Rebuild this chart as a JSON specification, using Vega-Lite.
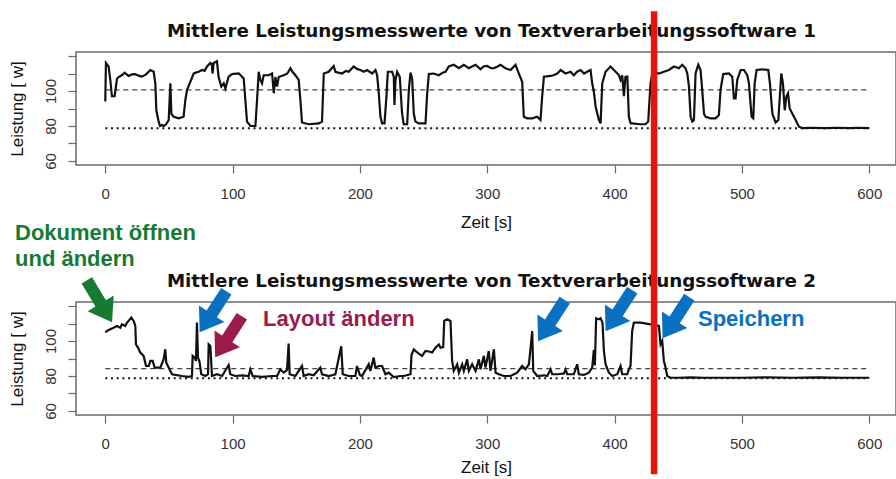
{
  "$schema": "https://vega.github.io/schema/vega-lite/v6.json",
  "background": "white",
  "padding": {"left": 7, "top": 7, "right": 0, "bottom": 0},
  "bounds": "flush",
  "spacing": 137,
  "config": {
    "view": {"stroke": "#6a6a6a", "strokeWidth": 1.5},
    "font": "Liberation Sans",
    "axis": {"grid": false, "domain": false, "tickColor": "#6a6a6a", "tickSize": 8, "tickWidth": 1.2,
      "labelFont": "Liberation Sans", "labelFontSize": 15, "labelColor": "#333",
      "titleFont": "Liberation Sans", "titleFontSize": 17, "titleFontWeight": "normal", "titleColor": "#111"}
  },
  "datasets": {
    "one": [{}],
    "title1": [{"t": 303.3, "w": 130.9, "label": "Mittlere Leistungsmesswerte von Textverarbeitungssoftware 1"}],
    "title2": [{"t": 303.3, "w": 130.9, "label": "Mittlere Leistungsmesswerte von Textverarbeitungssoftware 2"}],
    "sw1": [
      {"t":0,"w":94},{"t":0.5,"w":116},{"t":2.6,"w":114},{"t":4,"w":106},{"t":5.2,"w":97},{"t":7.3,"w":97},{"t":9.2,"w":107},{"t":10.5,"w":108},{"t":13,"w":109},{"t":15.2,"w":110.5},{"t":18.3,"w":108.6},{"t":21,"w":109.5},{"t":23.6,"w":109.7},{"t":26,"w":108.8},{"t":28.8,"w":108.2},{"t":32,"w":109.5},{"t":35.4,"w":112},{"t":38,"w":111},{"t":39.3,"w":104.4},{"t":40.1,"w":89},{"t":41.9,"w":82.5},{"t":43,"w":80},{"t":44.5,"w":80.6},{"t":46,"w":80},{"t":47.7,"w":81},{"t":49.8,"w":83.4},{"t":51.1,"w":104.4},{"t":51.9,"w":87},{"t":53.7,"w":85.3},{"t":57.6,"w":84.4},{"t":61.5,"w":85.3},{"t":62.9,"w":95},{"t":64.2,"w":100.6},{"t":66.8,"w":105.3},{"t":69.4,"w":110},{"t":71,"w":110.5},{"t":73.3,"w":111},{"t":76,"w":112},{"t":78,"w":111.5},{"t":79.9,"w":114},{"t":82.5,"w":116},{"t":83.5,"w":115.5},{"t":84.3,"w":110},{"t":85.1,"w":116},{"t":87.7,"w":117},{"t":89,"w":108},{"t":91.1,"w":102.5},{"t":93,"w":104.4},{"t":94.3,"w":101.5},{"t":96.9,"w":108.2},{"t":99.5,"w":109.7},{"t":104.8,"w":110.1},{"t":108.7,"w":107.2},{"t":110,"w":95},{"t":111.3,"w":82.5},{"t":114,"w":80},{"t":117.9,"w":80},{"t":119.2,"w":95},{"t":120.5,"w":111},{"t":121.8,"w":106.3},{"t":123.1,"w":104.4},{"t":124.4,"w":109},{"t":128.3,"w":109},{"t":131,"w":110},{"t":132.3,"w":98.7},{"t":133.6,"w":108},{"t":134.9,"w":102.5},{"t":136.2,"w":108},{"t":140.1,"w":109},{"t":143,"w":110},{"t":145.4,"w":113},{"t":147,"w":111},{"t":149.3,"w":109},{"t":151.9,"w":106.3},{"t":153.2,"w":95},{"t":154.5,"w":82},{"t":159.8,"w":81},{"t":167.6,"w":81.5},{"t":170.2,"w":82.5},{"t":171.6,"w":110},{"t":175.5,"w":111},{"t":179.4,"w":114.3},{"t":180.7,"w":111},{"t":183,"w":110.5},{"t":186,"w":110},{"t":189,"w":111.5},{"t":191.2,"w":111},{"t":195.1,"w":114},{"t":198,"w":112.5},{"t":200.4,"w":112},{"t":203,"w":111},{"t":205.6,"w":112},{"t":209.6,"w":110},{"t":212.2,"w":112},{"t":213.5,"w":109},{"t":214.8,"w":98.7},{"t":216.1,"w":85.3},{"t":217.4,"w":81.5},{"t":219.3,"w":81.5},{"t":220.8,"w":96.8},{"t":221.9,"w":111},{"t":225.3,"w":111},{"t":226.6,"w":108},{"t":227.1,"w":92},{"t":227.9,"w":106},{"t":229.2,"w":111},{"t":231.3,"w":108},{"t":233.1,"w":87},{"t":234.4,"w":81},{"t":237.1,"w":81},{"t":238.4,"w":100.6},{"t":239.7,"w":110.5},{"t":241,"w":107},{"t":242.3,"w":87},{"t":243.6,"w":82.5},{"t":246.2,"w":81.5},{"t":251.5,"w":81.5},{"t":252.8,"w":98.7},{"t":254.1,"w":109.7},{"t":258,"w":110},{"t":262,"w":109},{"t":265,"w":110.5},{"t":267.2,"w":111},{"t":269.8,"w":114},{"t":273.7,"w":115},{"t":277.7,"w":113},{"t":281.6,"w":115},{"t":285.5,"w":113},{"t":288,"w":114},{"t":290.8,"w":115},{"t":294.7,"w":112.4},{"t":297,"w":114},{"t":299.9,"w":114.3},{"t":303,"w":113},{"t":305.2,"w":113},{"t":308,"w":114},{"t":310.4,"w":115},{"t":314.3,"w":113},{"t":318.3,"w":112},{"t":322.2,"w":115},{"t":324.8,"w":110},{"t":327.4,"w":105.3},{"t":328.7,"w":85.3},{"t":331.3,"w":84.4},{"t":335.3,"w":84.4},{"t":339.2,"w":85.3},{"t":341.8,"w":83.4},{"t":343.1,"w":96.8},{"t":344.5,"w":108.2},{"t":349.7,"w":108.6},{"t":352,"w":109},{"t":355,"w":110},{"t":357.6,"w":112},{"t":361.5,"w":110},{"t":365.4,"w":111},{"t":368,"w":109},{"t":370.5,"w":111},{"t":373.3,"w":112},{"t":376,"w":110},{"t":378.5,"w":111},{"t":381.1,"w":112},{"t":382.4,"w":104.4},{"t":383.7,"w":99.6},{"t":385.1,"w":91},{"t":387.7,"w":83.4},{"t":389,"w":81.5},{"t":390.3,"w":104.4},{"t":392.9,"w":111},{"t":396.8,"w":114},{"t":400.8,"w":111},{"t":403.4,"w":109},{"t":404.7,"w":106.3},{"t":406,"w":109},{"t":407.3,"w":97},{"t":408.5,"w":108},{"t":410,"w":108.2},{"t":411.2,"w":85.3},{"t":412.6,"w":81.5},{"t":414,"w":81.5},{"t":420,"w":81},{"t":424.3,"w":81},{"t":426.4,"w":82.5},{"t":428.2,"w":104.4},{"t":429.6,"w":110},{"t":432,"w":110.5},{"t":434.8,"w":110},{"t":438.7,"w":111},{"t":442.6,"w":112},{"t":446.6,"w":114},{"t":450.5,"w":113},{"t":453.1,"w":115},{"t":455.7,"w":113},{"t":457.1,"w":110},{"t":458.4,"w":102.5},{"t":459.7,"w":85.3},{"t":461,"w":82.5},{"t":462.3,"w":83.4},{"t":463.6,"w":110},{"t":465.7,"w":115},{"t":467.5,"w":112},{"t":468.8,"w":100.6},{"t":470.2,"w":87},{"t":471.5,"w":85.3},{"t":475.4,"w":84.4},{"t":479.3,"w":84.4},{"t":481.9,"w":86.3},{"t":483.2,"w":100.6},{"t":485.3,"w":109.7},{"t":489.8,"w":110},{"t":492.4,"w":108.2},{"t":493.7,"w":95.8},{"t":495,"w":95.8},{"t":496.3,"w":106.3},{"t":499,"w":112},{"t":501.6,"w":112},{"t":504.2,"w":109},{"t":505.5,"w":104.4},{"t":507.6,"w":85.3},{"t":508.9,"w":84.4},{"t":510,"w":104.4},{"t":511.5,"w":112},{"t":516,"w":112.4},{"t":520.7,"w":112},{"t":522,"w":104.4},{"t":523.9,"w":87},{"t":526.5,"w":82},{"t":528.6,"w":83.4},{"t":529.6,"w":95},{"t":530.9,"w":110},{"t":532.2,"w":104.4},{"t":533.6,"w":89},{"t":534.9,"w":96.8},{"t":536.2,"w":98.7},{"t":537.5,"w":90},{"t":539.6,"w":87},{"t":542.2,"w":83.4},{"t":544.8,"w":79.6},{"t":547.4,"w":78.8},{"t":555,"w":79},{"t":565,"w":78.8},{"t":575,"w":79},{"t":585,"w":78.8},{"t":590,"w":79},{"t":600,"w":78.8}
    ],
    "sw2": [
      {"t":0,"w":105},{"t":1.3,"w":105.7},{"t":3.9,"w":106.7},{"t":6.5,"w":107.6},{"t":9.2,"w":108.6},{"t":11.8,"w":107.6},{"t":13.1,"w":109.6},{"t":15.7,"w":108.6},{"t":17,"w":110.5},{"t":18.3,"w":111.5},{"t":20.4,"w":113.4},{"t":22.3,"w":111.5},{"t":23.6,"w":108.6},{"t":24.1,"w":98},{"t":25.7,"w":96.2},{"t":27.5,"w":93.4},{"t":30.1,"w":91.5},{"t":32,"w":85.7},{"t":34.1,"w":85.7},{"t":35.4,"w":88.6},{"t":37.2,"w":88.6},{"t":38.8,"w":84.8},{"t":43.2,"w":84.8},{"t":45.8,"w":89.5},{"t":47.1,"w":95.3},{"t":47.9,"w":87.6},{"t":49.8,"w":84.8},{"t":52.4,"w":81},{"t":55,"w":80.6},{"t":60.2,"w":80},{"t":65.5,"w":79.5},{"t":68.1,"w":80},{"t":68.6,"w":91.5},{"t":70.2,"w":90.5},{"t":71.2,"w":88.6},{"t":72,"w":110.5},{"t":72.8,"w":90.5},{"t":73.9,"w":88.6},{"t":75.4,"w":81},{"t":78.6,"w":80},{"t":80.7,"w":81},{"t":81.2,"w":98.1},{"t":82.5,"w":97.2},{"t":83.8,"w":80},{"t":87.7,"w":81},{"t":91.7,"w":80},{"t":96.9,"w":86.3},{"t":98.2,"w":81},{"t":102.1,"w":80},{"t":107.4,"w":80.4},{"t":112.6,"w":80},{"t":113.9,"w":83.8},{"t":115.8,"w":80},{"t":123.1,"w":79.5},{"t":131,"w":80},{"t":134.9,"w":80},{"t":137.5,"w":83.8},{"t":140.1,"w":81.9},{"t":142.7,"w":83.3},{"t":144,"w":98.5},{"t":144.8,"w":81},{"t":149.3,"w":80},{"t":151.9,"w":82.9},{"t":154.5,"w":85.7},{"t":155.8,"w":80},{"t":159.8,"w":81},{"t":163.7,"w":80.4},{"t":168.9,"w":84.8},{"t":170.2,"w":81},{"t":175.5,"w":80},{"t":180.7,"w":81},{"t":185.3,"w":97},{"t":186.5,"w":81},{"t":191.2,"w":80},{"t":196.4,"w":80},{"t":197.7,"w":85.7},{"t":200,"w":80.5},{"t":201.6,"w":80},{"t":206.9,"w":86.7},{"t":208.2,"w":82.8},{"t":210.8,"w":90.5},{"t":212.1,"w":84.8},{"t":214.8,"w":85.7},{"t":217.4,"w":85.7},{"t":220,"w":81},{"t":222.6,"w":81.9},{"t":226.5,"w":79.4},{"t":231.7,"w":80},{"t":234.4,"w":80},{"t":239.7,"w":81},{"t":240.5,"w":92},{"t":242.3,"w":95.2},{"t":244,"w":94},{"t":246.2,"w":92.8},{"t":248.8,"w":91.5},{"t":251.5,"w":94.3},{"t":254.1,"w":94},{"t":256.7,"w":93.4},{"t":259.3,"w":96.2},{"t":262,"w":98},{"t":263.3,"w":96.2},{"t":265.4,"w":96.5},{"t":266.2,"w":111.5},{"t":268.5,"w":112.4},{"t":271.1,"w":111.5},{"t":272.4,"w":88.6},{"t":273.7,"w":82.9},{"t":276.4,"w":86.7},{"t":277.7,"w":81.9},{"t":280.3,"w":86.7},{"t":281.6,"w":82.9},{"t":284.2,"w":89.5},{"t":285.5,"w":82.9},{"t":288.1,"w":86.7},{"t":290.8,"w":82.9},{"t":293.4,"w":89.5},{"t":294.7,"w":83.8},{"t":297.3,"w":91.5},{"t":298.6,"w":84.8},{"t":301.2,"w":94.3},{"t":302.5,"w":82.9},{"t":305.2,"w":95.3},{"t":306.5,"w":81.9},{"t":309.1,"w":81},{"t":313,"w":80},{"t":318.3,"w":80},{"t":323.5,"w":81.9},{"t":327.4,"w":85.7},{"t":330,"w":83.8},{"t":332.7,"w":86.7},{"t":335.3,"w":105.7},{"t":336.1,"w":82.9},{"t":339.2,"w":80},{"t":344.5,"w":80.4},{"t":347.1,"w":80},{"t":349.7,"w":83.8},{"t":351,"w":81},{"t":354.9,"w":81},{"t":360.2,"w":81.4},{"t":361.5,"w":83.8},{"t":362.8,"w":81},{"t":368,"w":81},{"t":370.6,"w":86.7},{"t":371.9,"w":81},{"t":375.9,"w":80.6},{"t":379.8,"w":81.9},{"t":382.4,"w":84.8},{"t":383.7,"w":95},{"t":384.5,"w":86},{"t":385.5,"w":113},{"t":387.6,"w":112.4},{"t":389,"w":113},{"t":390.5,"w":110.5},{"t":391.6,"w":94.3},{"t":392.9,"w":86.7},{"t":395.5,"w":81.9},{"t":398.2,"w":80},{"t":402.1,"w":81},{"t":404.7,"w":85.7},{"t":406,"w":81},{"t":409.9,"w":81},{"t":411.2,"w":83.8},{"t":412.5,"w":85.7},{"t":413.8,"w":105.7},{"t":415.1,"w":110.5},{"t":420.4,"w":110.5},{"t":428.2,"w":109.5},{"t":434.8,"w":108.6},{"t":436.1,"w":98.1},{"t":437.4,"w":100},{"t":438.7,"w":88.6},{"t":440,"w":84.8},{"t":441.3,"w":80},{"t":443.9,"w":79},{"t":450,"w":79},{"t":460,"w":79.2},{"t":470,"w":79},{"t":480,"w":79},{"t":490,"w":79},{"t":500,"w":79},{"t":520,"w":79.2},{"t":540,"w":79},{"t":560,"w":79.2},{"t":580,"w":79},{"t":600,"w":79}
    ],
    "notes": [
      {"t": -70.9, "w": 162.0, "label": "Dokument öffnen", "kind": "open"},
      {"t": -70.9, "w": 147.0, "label": "und ändern", "kind": "open"},
      {"t": 123.9, "w": 112.8, "label": "Layout ändern", "kind": "layout"},
      {"t": 465.5, "w": 112.8, "label": "Speichern", "kind": "save"}
    ],
    "arrowsGreen": [
      {"t": -4.6, "w": 122.7, "kind": "open"}
    ],
    "arrowsOther": [
      {"t": 84.6, "w": 116.7, "kind": "save"},
      {"t": 96.8, "w": 102.4, "kind": "layout"},
      {"t": 350.4, "w": 111.6, "kind": "save"},
      {"t": 403.4, "w": 117.3, "kind": "save"},
      {"t": 448.2, "w": 113.3, "kind": "save"}
    ]
  },
  "vconcat": [
    {
      "width": 820,
      "height": 113,
      "encoding": {
        "x": {"type": "quantitative", "scale": {"domain": [-23, 621], "nice": false, "zero": false},
          "axis": {"title": "Zeit [s]", "values": [0, 100, 200, 300, 400, 500, 600], "format": "d", "labelPadding": 13, "titlePadding": 13}},
        "y": {"type": "quantitative", "scale": {"domain": [57.7, 122.3], "nice": false, "zero": false},
          "axis": {"title": "Leistung [ w]", "values": [60, 70, 80, 90, 100, 110, 120],
            "labelExpr": "(datum.value % 20 == 0 && datum.value < 120) ? datum.label : ''",
            "labelAngle": 270, "labelAlign": "center", "labelBaseline": "alphabetic", "labelPadding": 13, "titlePadding": 17}}
      },
      "layer": [
        {"data": {"name": "one"}, "mark": {"type": "rule", "color": "#444", "strokeWidth": 1.2, "strokeDash": [5, 4]},
         "encoding": {"x": {"datum": 0}, "x2": {"datum": 600}, "y": {"datum": 100.6}}},
        {"data": {"name": "one"}, "mark": {"type": "rule", "color": "#111", "strokeWidth": 2, "strokeDash": [2, 3.7]},
         "encoding": {"x": {"datum": 0}, "x2": {"datum": 600}, "y": {"datum": 78.7}}},
        {"data": {"name": "sw1"}, "mark": {"type": "line", "color": "#111", "strokeWidth": 2.2},
         "encoding": {"x": {"field": "t", "type": "quantitative"}, "y": {"field": "w", "type": "quantitative"}}},
        {"data": {"name": "title1"},
         "mark": {"type": "text", "align": "center", "baseline": "alphabetic", "font": "DejaVu Sans", "fontSize": 18.3, "fontWeight": "bold", "color": "#111", "clip": false},
         "encoding": {"x": {"field": "t", "type": "quantitative"}, "y": {"field": "w", "type": "quantitative"}, "text": {"field": "label"}}}
      ]
    },
    {
      "width": 820,
      "height": 113,
      "encoding": {
        "x": {"type": "quantitative", "scale": {"domain": [-23, 621], "nice": false, "zero": false},
          "axis": {"title": "Zeit [s]", "values": [0, 100, 200, 300, 400, 500, 600], "format": "d", "labelPadding": 13, "titlePadding": 8}},
        "y": {"type": "quantitative", "scale": {"domain": [57.7, 122.3], "nice": false, "zero": false},
          "axis": {"title": "Leistung [ w]", "values": [60, 70, 80, 90, 100, 110, 120],
            "labelExpr": "(datum.value % 20 == 0 && datum.value < 120) ? datum.label : ''",
            "labelAngle": 270, "labelAlign": "center", "labelBaseline": "alphabetic", "labelPadding": 13, "titlePadding": 17}}
      },
      "layer": [
        {"data": {"name": "one"}, "mark": {"type": "rule", "color": "#444", "strokeWidth": 1.2, "strokeDash": [5, 4]},
         "encoding": {"x": {"datum": 0}, "x2": {"datum": 600}, "y": {"datum": 84.2}}},
        {"data": {"name": "one"}, "mark": {"type": "rule", "color": "#111", "strokeWidth": 2, "strokeDash": [2, 3.7]},
         "encoding": {"x": {"datum": 0}, "x2": {"datum": 600}, "y": {"datum": 78.7}}},
        {"data": {"name": "sw2"}, "mark": {"type": "line", "color": "#111", "strokeWidth": 2.2},
         "encoding": {"x": {"field": "t", "type": "quantitative"}, "y": {"field": "w", "type": "quantitative"}}},
        {"data": {"name": "title2"},
         "mark": {"type": "text", "align": "center", "baseline": "alphabetic", "font": "DejaVu Sans", "fontSize": 18.3, "fontWeight": "bold", "color": "#111", "clip": false},
         "encoding": {"x": {"field": "t", "type": "quantitative"}, "y": {"field": "w", "type": "quantitative"}, "text": {"field": "label"}}},
        {"data": {"name": "arrowsGreen"},
         "mark": {"type": "point", "shape": "M-1,-0.25L0.1,-0.25L0.1,-0.62L1,0L0.1,0.62L0.1,0.25L-1,0.25Z", "filled": true, "opacity": 1, "size": 2401, "angle": 59, "clip": false, "strokeWidth": 0},
         "encoding": {"x": {"field": "t", "type": "quantitative"}, "y": {"field": "w", "type": "quantitative"},
           "color": {"field": "kind", "type": "nominal", "scale": {"domain": ["open", "layout", "save"], "range": ["#177a33", "#9b1b4a", "#0a70c2"]}, "legend": null}}},
        {"data": {"name": "arrowsOther"},
         "mark": {"type": "point", "shape": "M-1,-0.25L0.1,-0.25L0.1,-0.62L1,0L0.1,0.62L0.1,0.25L-1,0.25Z", "filled": true, "opacity": 1, "size": 2401, "angle": 123, "clip": false, "strokeWidth": 0},
         "encoding": {"x": {"field": "t", "type": "quantitative"}, "y": {"field": "w", "type": "quantitative"},
           "color": {"field": "kind", "type": "nominal", "scale": {"domain": ["open", "layout", "save"], "range": ["#177a33", "#9b1b4a", "#0a70c2"]}, "legend": null}}},
        {"data": {"name": "notes"},
         "mark": {"type": "text", "align": "left", "baseline": "middle", "font": "Liberation Sans", "fontSize": 22, "fontWeight": "bold", "clip": false},
         "encoding": {"x": {"field": "t", "type": "quantitative"}, "y": {"field": "w", "type": "quantitative"}, "text": {"field": "label"},
           "color": {"field": "kind", "type": "nominal", "scale": {"domain": ["open", "layout", "save"], "range": ["#177a33", "#9b1b4a", "#0a70c2"]}, "legend": null}}},
        {"data": {"name": "one"}, "mark": {"type": "rule", "color": "#e8130f", "strokeWidth": 6.5, "clip": false},
         "encoding": {"x": {"datum": 431}, "y": {"datum": 288.5}, "y2": {"datum": 23.8}}}
      ]
    }
  ]
}
